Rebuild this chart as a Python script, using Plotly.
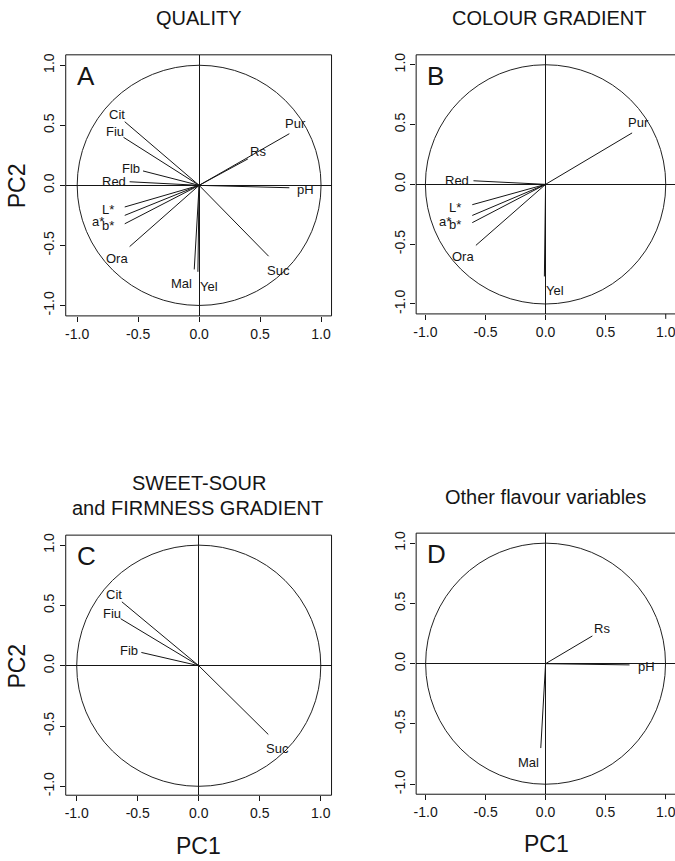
import plotly.graph_objects as go

# ---- data (PCA loadings) ----
panel_a_vars = ["Cit", "Fiu", "Flb", "Red", "L*", "a*", "b*", "Ora", "Mal", "Yel", "Suc", "pH", "Pur", "Rs"]
panel_a_pc1 = [-0.61, -0.62, -0.46, -0.57, -0.61, -0.61, -0.61, -0.57, -0.04, -0.01, 0.57, 0.74, 0.74, 0.40]
panel_a_pc2 = [0.53, 0.40, 0.12, 0.03, -0.18, -0.25, -0.32, -0.51, -0.70, -0.72, -0.59, -0.02, 0.43, 0.22]

panel_b_vars = ["Red", "L*", "a*", "b*", "Ora", "Yel", "Pur"]
panel_b_pc1 = [-0.60, -0.61, -0.61, -0.61, -0.58, -0.01, 0.72]
panel_b_pc2 = [0.03, -0.17, -0.26, -0.32, -0.51, -0.77, 0.43]

panel_c_vars = ["Cit", "Fiu", "Fib", "Suc"]
panel_c_pc1 = [-0.63, -0.64, -0.47, 0.57]
panel_c_pc2 = [0.53, 0.39, 0.11, -0.57]

panel_d_vars = ["Rs", "pH", "Mal"]
panel_d_pc1 = [0.39, 0.70, -0.04]
panel_d_pc2 = [0.23, -0.01, -0.70]

panel_title_lines = [["QUALITY"], ["COLOUR GRADIENT"], ["SWEET-SOUR", "and FIRMNESS GRADIENT"], ["Other flavour variables"]]
panel_letters = ["A", "B", "C", "D"]
tick_vals = [-1.0, -0.5, 0.0, 0.5, 1.0]
tick_text = ["-1.0", "-0.5", "0.0", "0.5", "1.0"]

# ---- label placement (style) ----
label_style = {
    "Cit": ("right", "bottom", 2, -2),
    "Fiu": ("right", "bottom", 2, -4),
    "Flb": ("right", "middle", -1, 2),
    "Fib": ("right", "middle", -1, 2),
    "Red": ("right", "middle", -2, 0),
    "L*": ("right", "middle", -9, -3),
    "a*": ("right", "middle", -19, -6),
    "b*": ("right", "middle", -9, -2),
    "Ora": ("right", "top", 0, -2),
    "Mal": ("right", "top", 0, -5),
    "Yel": ("left", "top", 0, -5),
    "Suc": ("left", "top", -4, -5),
    "pH": ("left", "middle", 6, -2),
    "Pur": ("center", "bottom", 6, 1),
    "Rs": ("left", "bottom", 0, -2),
}

W, H = 675, 861
FONT = "Liberation Sans, Arial, Helvetica, sans-serif"
INK = "#151515"

panels = [
    (panel_a_vars, panel_a_pc1, panel_a_pc2),
    (panel_b_vars, panel_b_pc1, panel_b_pc2),
    (panel_c_vars, panel_c_pc1, panel_c_pc2),
    (panel_d_vars, panel_d_pc1, panel_d_pc2),
]
# pixel boxes: left, right, top, bottom
boxes = [(63, 330, 53, 315), (415, 675, 53, 313), (63, 330, 535, 796), (415, 675, 533, 795)]
xranges = [[-1.094, 1.086], [-1.077, 1.077], [-1.09, 1.088], [-1.079, 1.079]]
yranges = [[-1.087, 1.087], [-1.083, 1.083], [-1.074, 1.083], [-1.083, 1.083]]

fig = go.Figure()
annotations = []
shapes = []

for i, ((names, xs, ys), (l, r, t, b)) in enumerate(zip(panels, boxes)):
    n = "" if i == 0 else str(i + 1)
    xa, ya = "x" + n, "y" + n
    lx, ly = [], []
    for xv, yv in zip(xs, ys):
        lx += [0, xv, None]
        ly += [0, yv, None]
    fig.add_trace(go.Scatter(x=lx, y=ly, mode="lines", line=dict(color=INK, width=1),
                             xaxis=xa, yaxis=ya, showlegend=False, hoverinfo="skip"))
    for name, xv, yv in zip(names, xs, ys):
        xan, yan, dx, dy = label_style[name]
        annotations.append(dict(x=xv, y=yv, xref=xa, yref=ya, text=name, showarrow=False,
                                xanchor=xan, yanchor=yan, xshift=dx, yshift=dy,
                                font=dict(family=FONT, size=13, color=INK)))
    shapes.append(dict(type="circle", xref=xa, yref=ya, x0=-1, x1=1, y0=-1, y1=1,
                       line=dict(color="#222", width=1)))
    dom_x = xa + " domain"
    dom_y = ya + " domain"
    shapes.append(dict(type="line", xref=dom_x, yref=dom_y, x0=0, x1=0, y0=0, y1=1, line=dict(color=INK, width=1)))
    shapes.append(dict(type="line", xref=dom_x, yref=dom_y, x0=0, x1=1, y0=1, y1=1, line=dict(color=INK, width=1)))
    shapes.append(dict(type="line", xref=dom_x, yref=dom_y, x0=0, x1=1, y0=0, y1=0, line=dict(color=INK, width=1)))
    right_edge = i in (0, 2)
    if right_edge:
        shapes.append(dict(type="line", xref=dom_x, yref=dom_y, x0=1, x1=1, y0=0, y1=1, line=dict(color=INK, width=1)))

    # panels at the page's right edge: the last tick label would be dropped by the axis, so show it as text
    shown_vals = tick_vals if right_edge else tick_vals[:-1]
    shown_text = tick_text if right_edge else tick_text[:-1]
    axis_common = dict(ticks="outside", ticklen=5,
                       tickcolor=INK, showgrid=False, zeroline=True, zerolinecolor=INK,
                       zerolinewidth=1, showline=False,
                       tickfont=dict(family=FONT, size=14, color=INK))
    fig.layout["xaxis" + n] = dict(domain=[l / W, r / W], range=xranges[i], anchor=ya,
                                   tickvals=shown_vals, ticktext=shown_text, **axis_common)
    fig.layout["yaxis" + n] = dict(domain=[1 - b / H, 1 - t / H], range=yranges[i], anchor=xa,
                                   tickvals=tick_vals, ticktext=tick_text,
                                   tickangle=-90, **axis_common)
    if not right_edge:
        shapes.append(dict(type="line", xref=xa, yref=dom_y, x0=tick_vals[-1], x1=tick_vals[-1],
                           y0=0, y1=-5 / (b - t), line=dict(color=INK, width=1)))
        annotations.append(dict(x=tick_vals[-1], y=0, xref=xa, yref=dom_y, text=tick_text[-1],
                                showarrow=False, xanchor="center", yanchor="top", yshift=-8,
                                font=dict(family=FONT, size=14, color=INK)))

    annotations.append(dict(x=0.035, y=0.985, xref=dom_x, yref=dom_y, text=panel_letters[i],
                            showarrow=False, xanchor="left", yanchor="top",
                            font=dict(family=FONT, size=26, color=INK)))

# titles (one annotation per line)
title_pos = [[(197, 16)], [(548, 16)], [(197, 483), (195, 508)], [(545, 497)]]
for lines, poss in zip(panel_title_lines, title_pos):
    for txt, (px, py) in zip(lines, poss):
        annotations.append(dict(x=px / W, y=1 - py / H, xref="paper", yref="paper", text=txt,
                                showarrow=False, xanchor="center", yanchor="middle",
                                font=dict(family=FONT, size=20, color=INK)))

# axis titles
for (px, py) in [(14, 184), (14, 666)]:
    annotations.append(dict(x=px / W, y=1 - py / H, xref="paper", yref="paper", text="PC2",
                            showarrow=False, textangle=-90, xanchor="center", yanchor="middle",
                            font=dict(family=FONT, size=23, color=INK)))
for (px, py) in [(196, 847), (546, 845)]:
    annotations.append(dict(x=px / W, y=1 - py / H, xref="paper", yref="paper", text="PC1",
                            showarrow=False, xanchor="center", yanchor="middle",
                            font=dict(family=FONT, size=23, color=INK)))

fig.update_layout(width=W, height=H, margin=dict(l=0, r=0, t=0, b=0),
                  paper_bgcolor="white", plot_bgcolor="white",
                  annotations=annotations, shapes=shapes, showlegend=False)

fig.write_html("out.html", config={"displayModeBar": False},
               post_script="document.body.style.margin='0px';document.body.style.padding='0px';")
